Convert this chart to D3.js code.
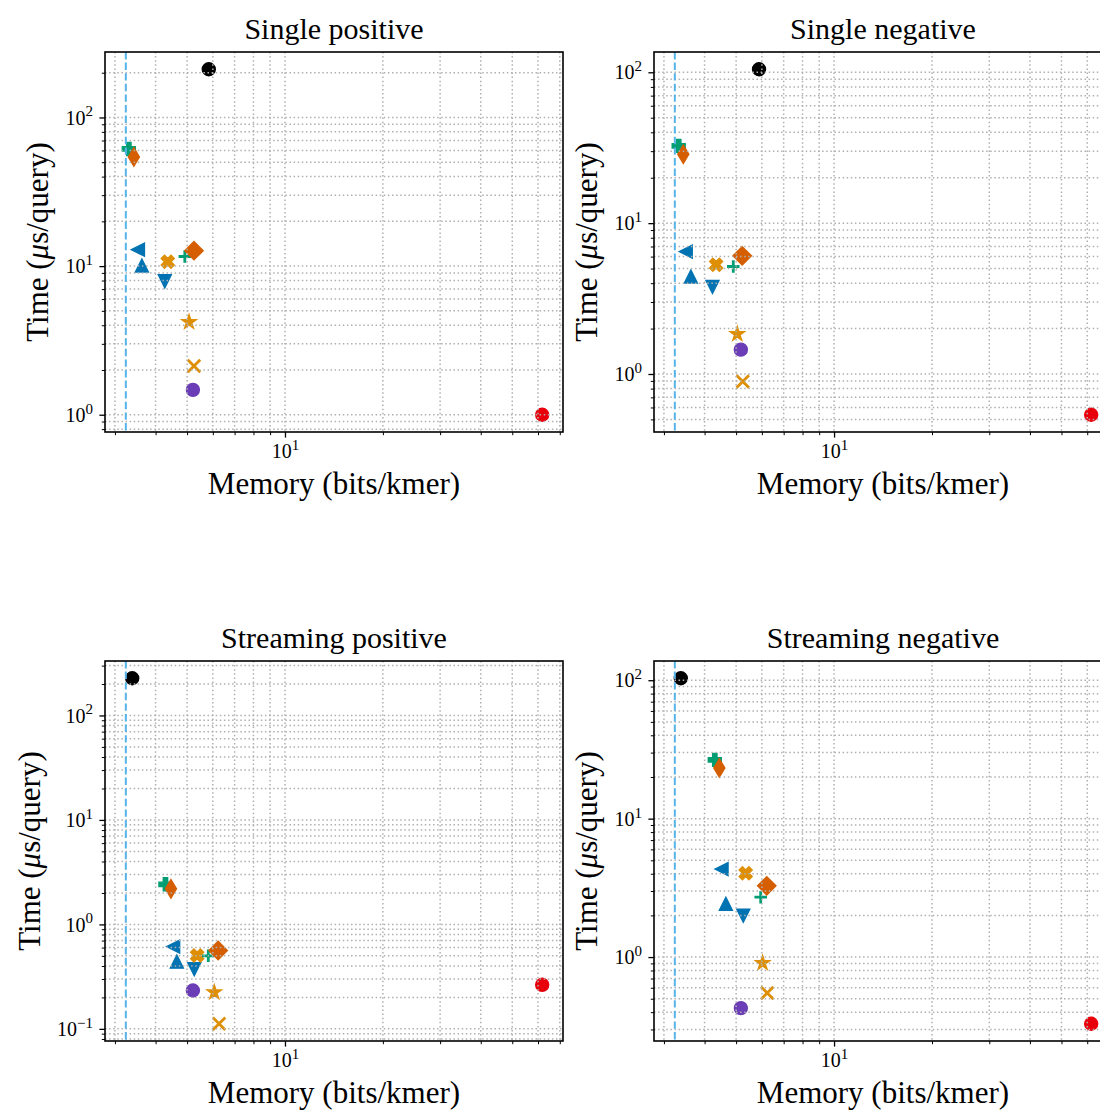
<!DOCTYPE html>
<html>
<head>
<meta charset="utf-8">
<script src="https://cdn.jsdelivr.net/npm/d3@7"></script>
<style>
body { margin: 0; background: #fff; }
svg { display: block; font-family: "Liberation Serif", serif; }
</style>
</head>
<body>
<svg id="chart"></svg>
<script>
const width = 1100;
const height = 1112;

// panels
const panelTitles = ["Single positive", "Single negative", "Streaming positive", "Streaming negative"];

// one entry per method, same order in every array below
const methods = ["M1", "M2", "M3", "M4", "M5", "M6", "M7", "M8", "M9", "M10", "M11", "M12", "M13"];

// memory (bits/kmer)
const memSinglePos = [5.83, 3.31, 3.43, 3.53, 3.63, 4.27, 4.36, 4.92, 5.25, 5.07, 5.25, 5.21, 61.8];
const memSingleNeg = [5.88, 3.33, 3.44, 3.50, 3.63, 4.23, 4.34, 4.90, 5.22, 5.04, 5.24, 5.17, 61.7];
const memStreamPos = [3.39, 4.29, 4.46, 4.53, 4.65, 5.26, 5.37, 5.81, 6.23, 6.06, 6.27, 5.21, 61.8];
const memStreamNeg = [3.38, 4.30, 4.44, 4.51, 4.65, 5.26, 5.35, 5.95, 6.21, 6.03, 6.23, 5.17, 61.7];

// time (us/query)
const timeSinglePos = [211, 61.4, 54.3, 12.9, 10.1, 7.9, 10.7, 11.6, 12.7, 4.2, 2.13, 1.47, 1.0];
const timeSingleNeg = [104.7, 32.5, 28.6, 6.48, 4.43, 3.77, 5.3, 5.16, 6.07, 1.84, 0.893, 1.45, 0.537];
const timeStreamPos = [227, 2.42, 2.19, 0.613, 0.44, 0.372, 0.503, 0.5, 0.562, 0.224, 0.112, 0.233, 0.264];
const timeStreamNeg = [103.3, 26.6, 23.2, 4.32, 2.43, 1.99, 4.04, 2.71, 3.27, 0.905, 0.55, 0.428, 0.33];

// vertical dashed reference (bits/kmer)
const boundLine = 3.24;

const memory = [memSinglePos, memSingleNeg, memStreamPos, memStreamNeg];
const times = [timeSinglePos, timeSingleNeg, timeStreamPos, timeStreamNeg];

// marker style per method
const styles = [
    {shape: "o", color: "#000000"},
    {shape: "P", color: "#029E73"},
    {shape: "d", color: "#D55E00"},
    {shape: "<", color: "#0173B2"},
    {shape: "^", color: "#0173B2"},
    {shape: "v", color: "#0173B2"},
    {shape: "X", color: "#DE8F05"},
    {shape: "+", color: "#029E73"},
    {shape: "D", color: "#D55E00"},
    {shape: "*", color: "#DE8F05"},
    {shape: "x", color: "#DE8F05"},
    {shape: "o", color: "#6B3DB6"},
    {shape: "o", color: "#E8000B"}
];

const layout = [
    {left: 105, top: 52}, {left: 654, top: 52},
    {left: 105, top: 661}, {left: 654, top: 661}
];
const axW = 458, axH = 380;
const ms = 13;
const titleSize = 30, labelSize = 31, tickSize = 20;

const svg = d3.select("#chart")
    .attr("width", width)
    .attr("height", height);

function logDomain(vals) {
    const ext = d3.extent(vals).map(Math.log10);
    const pad = (ext[1] - ext[0]) * 0.05;
    return [Math.pow(10, ext[0] - pad), Math.pow(10, ext[1] + pad)];
}

function logTicks(domain) {
    const major = [], minor = [];
    const k0 = Math.floor(Math.log10(domain[0])), k1 = Math.ceil(Math.log10(domain[1]));
    for (let k = k0; k <= k1; k++) {
        for (let m = 1; m < 10; m++) {
            const v = m * Math.pow(10, k);
            if (v < domain[0] || v > domain[1]) continue;
            (m === 1 ? major : minor).push(v);
        }
    }
    return {major, minor};
}

function poly(pts) {
    return "M" + pts.map(p => p[0].toFixed(2) + "," + p[1].toFixed(2)).join("L") + "Z";
}

function markerPath(shape, s) {
    const h = s / 2;
    switch (shape) {
        case "o": return d3.symbol(d3.symbolCircle, Math.PI * h * h)();
        case "^": return poly([[0, -h], [h, h], [-h, h]]);
        case "v": return poly([[0, h], [h, -h], [-h, -h]]);
        case "<": return poly([[-h, 0], [h, -h], [h, h]]);
        case "D": {
            const r = s / Math.SQRT2;
            return poly([[0, -r], [r, 0], [0, r], [-r, 0]]);
        }
        case "d": {
            const r = s / Math.SQRT2;
            return poly([[0, -r], [0.6 * r, 0], [0, r], [-0.6 * r, 0]]);
        }
        case "P": {
            const pts = [[-1, -3], [-1, -1], [-3, -1], [-3, 1], [-1, 1], [-1, 3], [1, 3], [1, 1], [3, 1], [3, -1], [1, -1], [1, -3]];
            return poly(pts.map(p => [p[0] * s / 6, p[1] * s / 6]));
        }
        case "X": {
            const pts = [[-1, -2], [0, -1], [1, -2], [2, -1], [1, 0], [2, 1], [1, 2], [0, 1], [-1, 2], [-2, 1], [-1, 0], [-2, -1]];
            return poly(pts.map(p => [p[0] * s / 4, p[1] * s / 4]));
        }
        case "*": {
            const pts = [];
            for (let i = 0; i < 10; i++) {
                const r = i % 2 === 0 ? h : h * 0.381966;
                const a = -Math.PI / 2 + i * Math.PI / 5;
                pts.push([r * Math.cos(a), r * Math.sin(a)]);
            }
            return poly(pts);
        }
        case "+": return `M${-h},0L${h},0M0,${-h}L0,${h}`;
        case "x": return `M${-h},${-h}L${h},${h}M${-h},${h}L${h},${-h}`;
    }
}

function powerLabel(text, v) {
    const e = Math.round(Math.log10(v));
    text.text(null);
    text.append("tspan").text("10");
    text.append("tspan")
        .attr("dy", "-0.55em")
        .attr("font-size", "0.75em")
        .text(e < 0 ? "\u2212" + (-e) : String(e));
}

panelTitles.forEach((title, i) => {
    const pos = layout[i];
    const mem = memory[i], tim = times[i];
    const g = svg.append("g").attr("transform", `translate(${pos.left},${pos.top})`);

    const x = d3.scaleLog().domain(logDomain(mem.concat([boundLine]))).range([0, axW]);
    const y = d3.scaleLog().domain(logDomain(tim)).range([axH, 0]);
    const xt = logTicks(x.domain()), yt = logTicks(y.domain());

    // points
    methods.forEach((m, j) => {
        const st = styles[j];
        const stroked = st.shape === "+" || st.shape === "x";
        let size = ms;
        if (st.shape === "*") size = 15;
        if (stroked) size = 12.5;
        g.append("path")
            .attr("d", markerPath(st.shape, size))
            .attr("transform", `translate(${x(mem[j])},${y(tim[j])})`)
            .attr("fill", stroked ? "none" : st.color)
            .attr("stroke", st.color)
            .attr("stroke-linejoin", "miter")
            .attr("stroke-width", stroked ? 2.8 : 1.4);
    });

    // grid (drawn above the markers)
    const grid = g.append("g")
        .attr("stroke", "#b0b0b0")
        .attr("stroke-width", 1.5)
        .attr("stroke-dasharray", "1.5,2.6");
    grid.selectAll(".gx").data(xt.major.concat(xt.minor)).enter().append("line")
        .attr("x1", d => x(d)).attr("x2", d => x(d))
        .attr("y1", 0).attr("y2", axH);
    grid.selectAll(".gy").data(yt.major.concat(yt.minor)).enter().append("line")
        .attr("y1", d => y(d)).attr("y2", d => y(d))
        .attr("x1", 0).attr("x2", axW);

    // dashed reference line
    g.append("line")
        .attr("x1", x(boundLine)).attr("x2", x(boundLine))
        .attr("y1", 0).attr("y2", axH)
        .attr("stroke", "#56B4E9")
        .attr("stroke-width", 2)
        .attr("stroke-dasharray", "7.4,3.2");

    // axes
    const yMajor = g.append("g")
        .call(d3.axisLeft(y).tickValues(yt.major).tickSize(5.6).tickPadding(6.5).tickFormat(""));
    const yMinor = g.append("g")
        .call(d3.axisLeft(y).tickValues(yt.minor).tickSize(3.2).tickFormat(""));
    const xMajor = g.append("g").attr("transform", `translate(0,${axH})`)
        .call(d3.axisBottom(x).tickValues(xt.major).tickSize(5.6).tickPadding(3.5).tickFormat(""));
    const xMinor = g.append("g").attr("transform", `translate(0,${axH})`)
        .call(d3.axisBottom(x).tickValues(xt.minor).tickSize(3.2).tickFormat(""));

    [yMajor, yMinor, xMajor, xMinor].forEach(a => a.select(".domain").remove());
    yMajor.selectAll("line").attr("stroke-width", 1.3);
    xMajor.selectAll("line").attr("stroke-width", 1.3);
    yMinor.selectAll("line").attr("stroke-width", 1);
    xMinor.selectAll("line").attr("stroke-width", 1);

    yMajor.selectAll("text")
        .attr("font-size", tickSize)
        .attr("font-family", "Liberation Serif, serif")
        .attr("dy", "0.33em")
        .each(function(d) { powerLabel(d3.select(this), d); });
    xMajor.selectAll("text")
        .attr("font-size", tickSize)
        .attr("font-family", "Liberation Serif, serif")
        .each(function(d) { powerLabel(d3.select(this), d); });
    // keep the digits below the tick, the exponent rides above them
    xMajor.selectAll("text tspan:first-child").attr("dy", "0.85em");

    // frame
    g.append("rect")
        .attr("width", axW).attr("height", axH)
        .attr("fill", "none")
        .attr("stroke", "#000")
        .attr("stroke-width", 1.6);

    // title and labels
    g.append("text")
        .attr("x", axW / 2).attr("y", -13)
        .attr("text-anchor", "middle")
        .attr("font-size", titleSize)
        .text(title);

    g.append("text")
        .attr("x", axW / 2).attr("y", axH + 62)
        .attr("text-anchor", "middle")
        .attr("font-size", labelSize)
        .text("Memory (bits/kmer)");

    let tlLeft = 0;
    yMajor.selectAll("text").each(function() {
        tlLeft = Math.min(tlLeft, this.getBBox().x);
    });
    const yl = g.append("text")
        .attr("transform", `translate(${tlLeft - 17},${axH / 2}) rotate(-90)`)
        .attr("text-anchor", "middle")
        .attr("font-size", labelSize);
    yl.append("tspan").text("Time (");
    yl.append("tspan").attr("font-style", "italic").text("\u03bc");
    yl.append("tspan").text("s/query)");
});
</script>
</body>
</html>
